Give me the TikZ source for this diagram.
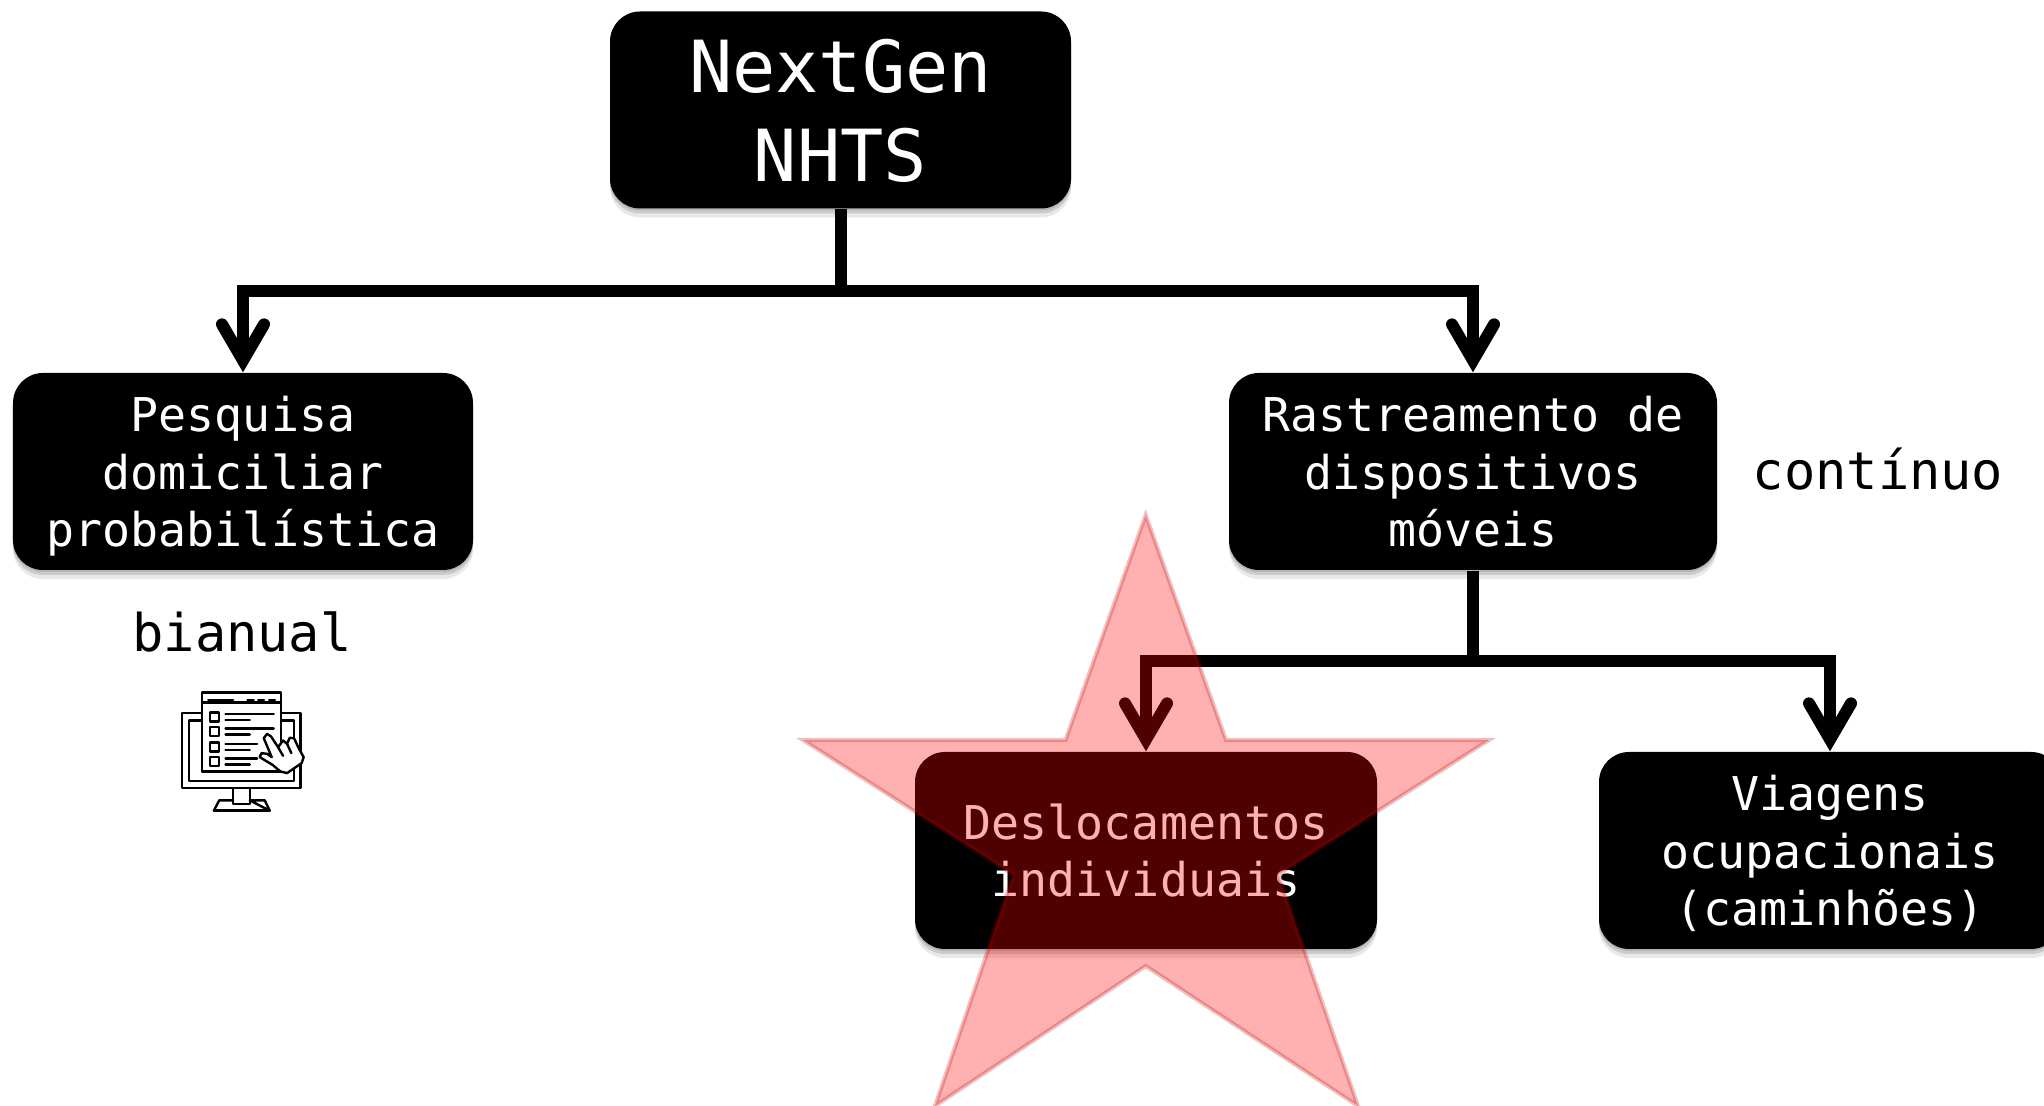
\documentclass[tikz,border=0pt]{standalone}
\usepackage{fontspec}
\setmainfont{DejaVu Sans Mono}
\usetikzlibrary{arrows.meta,shadows}
\tikzset{
    softshadow/.style={
        drop shadow={shadow xshift=0cm,shadow yshift=-0.02cm,opacity=0.3},
        drop shadow={shadow xshift=0cm,shadow yshift=-0.05cm,opacity=0.28},
        drop shadow={shadow xshift=0cm,shadow yshift=-0.09cm,opacity=0.18}},
    boxnode/.style={softshadow,fill=black,text=white,rounded corners=0.3cm,align=center,
        minimum height=1.97cm,inner sep=0pt,text depth=0pt,
        font=\fontsize{13.25}{16.3}\selectfont},
    bignode/.style={boxnode,text depth=-1.1pt,font=\fontsize{20.45}{25.3}\selectfont},
    notelabel/.style={text=black,inner sep=0pt,font=\fontsize{14.8}{17}\selectfont},
    conn/.style={line width=0.12cm,draw=black},
    connarrow/.style={conn,-{Straight Barb[length=0.36cm,width=0.42cm,line cap=round,line join=miter]}},
    iconline/.style={line width=0.024cm,draw=black,line join=round,line cap=round},
}
\begin{document}
\begin{tikzpicture}
    \useasboundingbox (0,0) rectangle (20.44,11.06);

    \node [bignode,minimum width=4.61cm] (nextgen) at (8.405,9.96) {NextGen\\NHTS};
    \node [boxnode,minimum width=4.60cm] (pesquisa) at (2.43,6.345) {Pesquisa\\domiciliar\\probabilística};
    \node [boxnode,minimum width=4.88cm] (rastreamento) at (14.73,6.345) {Rastreamento de\\dispositivos\\móveis};
    \node [boxnode,minimum width=4.62cm] (deslocamentos) at (11.46,2.555) {Deslocamentos\\individuais};
    \node [boxnode,minimum width=4.62cm] (viagens) at (18.30,2.555) {Viagens\\ocupacionais\\(caminhões)};
    \node [notelabel] (bianual) at (2.42,4.74) {bianual};
    \node [notelabel] (continuo) at (18.78,6.37) {contínuo};

    \coordinate (trunkgen) at (8.405,8.15);
    \coordinate (trunkras) at (14.73,4.45);
    \draw [conn] (nextgen.south) -- (trunkgen);
    \draw [connarrow] (trunkgen) -| (pesquisa.north);
    \draw [connarrow] (trunkgen) -| (rastreamento.north);
    \draw [conn] (rastreamento.south) -- (trunkras);
    \draw [connarrow] (trunkras) -| (deslocamentos.north);
    \draw [connarrow] (trunkras) -| (viagens.north);

    \begin{scope}[x=0.003333cm,y=-0.003333cm,shift={(1.5cm,4.36cm)}]
        \draw [iconline] (97,130) rectangle (453,355);
        \draw [iconline] (118,152) rectangle (433,333);
        \draw [iconline] (250,355) -- (250,403) -- (300,403) -- (300,355);
        \draw [iconline] (192,423) -- (208,392) -- (250,392);
        \draw [iconline] (300,392) -- (345,392) -- (360,423) -- cycle;
        \draw [iconline] (192,423) -- (360,423);
        \draw [iconline,fill=white] (157,68) rectangle (393,305);
        \draw [iconline] (157,98) -- (393,98);
        \draw [iconline] (175,90) -- (250,90);
        \draw [iconline] (293,90) -- (312,90);
        \draw [iconline] (325,90) -- (343,90);
        \draw [iconline] (358,90) -- (376,90);
        \foreach \ypos/\lenA/\lenB in {128/372/300,172/372/300,218/322/300,262/322/300} {
            \draw [iconline] (180,\ypos) rectangle (208,\ypos+27);
            \draw [iconline] (227,\ypos+4) -- (\lenA,\ypos+4);
            \draw [iconline] (227,\ypos+22) -- (\lenB,\ypos+22);
        }
        \draw [iconline,fill=white] (342,205) -- (352,192) -- (364,200) -- (385,232)
            -- (400,212) -- (412,222) -- (420,204) -- (433,205) -- (447,235) -- (462,262)
            -- (456,280) -- (412,310) -- (392,305) -- (368,285) -- (330,262) -- (335,250)
            -- (352,252) -- (366,262) -- cycle;
        \draw [iconline] (385,232) -- (400,258);
        \draw [iconline] (412,222) -- (425,250);
    \end{scope}

    \draw [fill=red,fill opacity=0.31,draw=red!75!black,draw opacity=0.25,line width=0.04cm,line join=miter]
        (11.457,5.91) -- (12.26,3.66) -- (14.89,3.66) -- (12.78,2.314) -- (13.58,0)
        -- (11.457,1.40) -- (9.35,0) -- (10.136,2.314) -- (8.03,3.66) -- (10.655,3.66) -- cycle;
\end{tikzpicture}
\end{document}
